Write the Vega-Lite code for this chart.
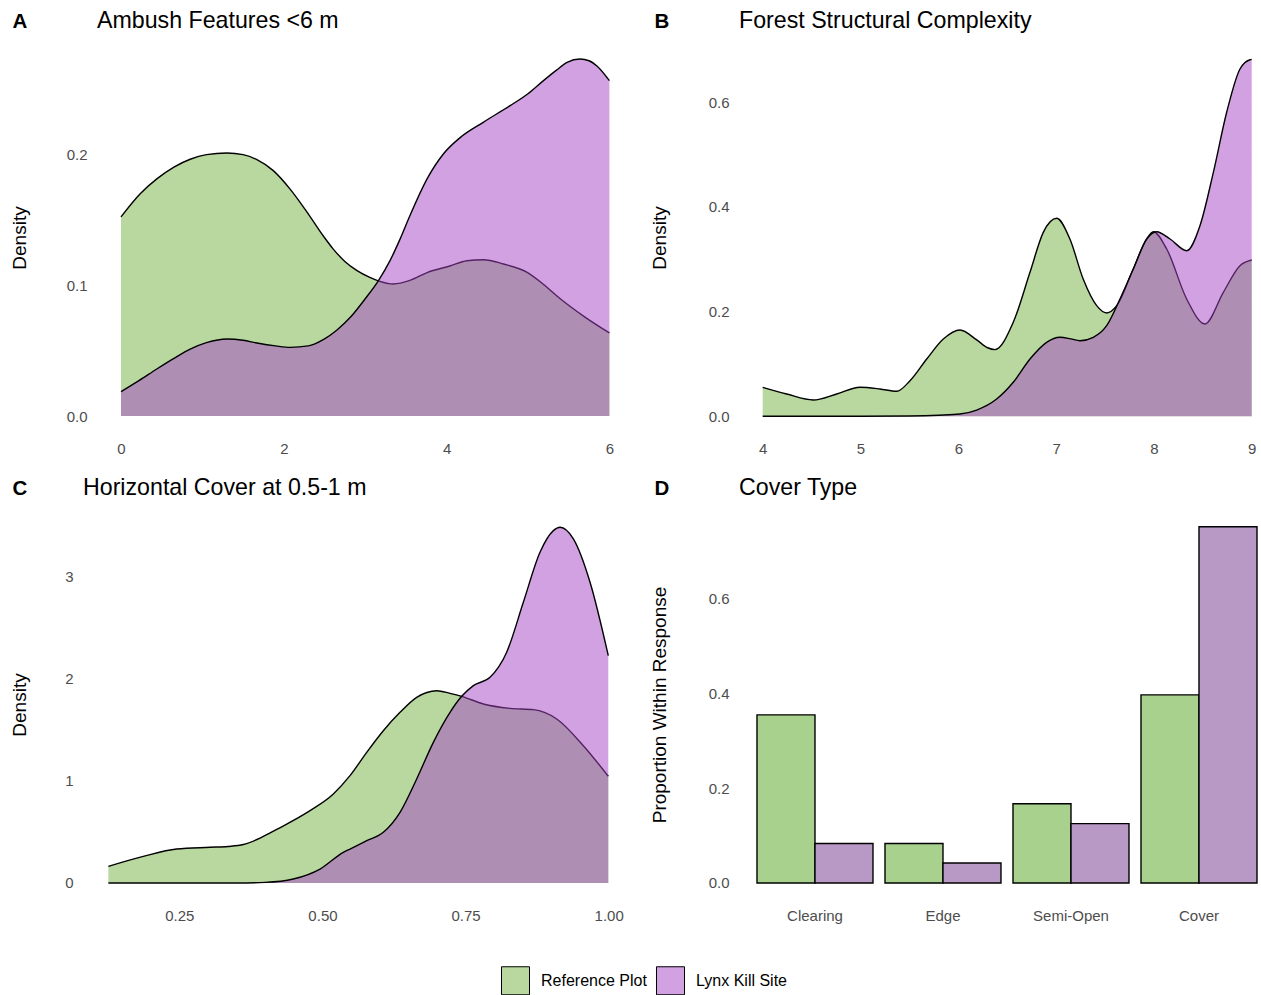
{
  "$schema": "https://vega.github.io/schema/vega-lite/v6.json",
  "background": "white",
  "padding": {"left": 10, "top": 9, "right": 0, "bottom": 0},
  "autosize": {"type": "pad"},
  "config": {
    "font": "Liberation Sans",
    "view": {"stroke": null},
    "axis": {"domain": false, "ticks": false, "tickSize": 0, "grid": false, "labelColor": "#4d4d4d", "labelFont": "Liberation Sans", "labelFontSize": 15, "labelPadding": 10, "labelFlush": false, "labelOverlap": false, "titleFont": "Liberation Sans", "titleFontSize": 19, "titleFontWeight": "normal", "titleColor": "black"},
    "axisX": {"labelPadding": 7.5, "labelAngle": 0, "titleFontSize": 20.5, "titleFontWeight": "bold", "titleAlign": "left", "titleBaseline": "alphabetic", "titleAngle": 0, "titleY": -406.7},
    "axisY": {"titleBaseline": "middle", "titleAngle": -90},
    "title": {"anchor": "start", "frame": "group", "font": "Liberation Sans", "fontSize": 23.2, "fontWeight": "normal", "color": "black", "offset": -22.2},
    "legend": {"orient": "none", "legendX": 418, "legendY": 925, "direction": "horizontal", "symbolType": "square", "symbolSize": 784, "labelFontSize": 16, "labelFont": "Liberation Sans", "labelColor": "black", "labelOffset": 11, "columnPadding": 7, "padding": 0}
  },
  "datasets": {
    "ambush": [
      {"x": 0, "y": 0.152, "g": "Reference Plot"},
      {"x": 0.233, "y": 0.1695, "g": "Reference Plot"},
      {"x": 0.44, "y": 0.181, "g": "Reference Plot"},
      {"x": 0.65, "y": 0.19, "g": "Reference Plot"},
      {"x": 0.85, "y": 0.196, "g": "Reference Plot"},
      {"x": 1.05, "y": 0.1995, "g": "Reference Plot"},
      {"x": 1.3, "y": 0.2008, "g": "Reference Plot"},
      {"x": 1.5, "y": 0.1995, "g": "Reference Plot"},
      {"x": 1.67, "y": 0.1957, "g": "Reference Plot"},
      {"x": 1.871, "y": 0.1873, "g": "Reference Plot"},
      {"x": 2.08, "y": 0.173, "g": "Reference Plot"},
      {"x": 2.281, "y": 0.156, "g": "Reference Plot"},
      {"x": 2.49, "y": 0.137, "g": "Reference Plot"},
      {"x": 2.6, "y": 0.128, "g": "Reference Plot"},
      {"x": 2.75, "y": 0.118, "g": "Reference Plot"},
      {"x": 2.9, "y": 0.111, "g": "Reference Plot"},
      {"x": 3.05, "y": 0.106, "g": "Reference Plot"},
      {"x": 3.161, "y": 0.1032, "g": "Reference Plot"},
      {"x": 3.345, "y": 0.1008, "g": "Reference Plot"},
      {"x": 3.55, "y": 0.1035, "g": "Reference Plot"},
      {"x": 3.76, "y": 0.1095, "g": "Reference Plot"},
      {"x": 4.04, "y": 0.1145, "g": "Reference Plot"},
      {"x": 4.25, "y": 0.1185, "g": "Reference Plot"},
      {"x": 4.45, "y": 0.1193, "g": "Reference Plot"},
      {"x": 4.7, "y": 0.116, "g": "Reference Plot"},
      {"x": 4.99, "y": 0.1097, "g": "Reference Plot"},
      {"x": 5.2, "y": 0.1, "g": "Reference Plot"},
      {"x": 5.4, "y": 0.0893, "g": "Reference Plot"},
      {"x": 5.7, "y": 0.0755, "g": "Reference Plot"},
      {"x": 6.0, "y": 0.0634, "g": "Reference Plot"},
      {"x": 0, "y": 0.0186, "g": "Lynx Kill Site"},
      {"x": 0.22, "y": 0.027, "g": "Lynx Kill Site"},
      {"x": 0.44, "y": 0.0359, "g": "Lynx Kill Site"},
      {"x": 0.65, "y": 0.044, "g": "Lynx Kill Site"},
      {"x": 0.85, "y": 0.0511, "g": "Lynx Kill Site"},
      {"x": 1.05, "y": 0.056, "g": "Lynx Kill Site"},
      {"x": 1.3, "y": 0.0588, "g": "Lynx Kill Site"},
      {"x": 1.5, "y": 0.0578, "g": "Lynx Kill Site"},
      {"x": 1.67, "y": 0.0557, "g": "Lynx Kill Site"},
      {"x": 1.9, "y": 0.0535, "g": "Lynx Kill Site"},
      {"x": 2.08, "y": 0.0524, "g": "Lynx Kill Site"},
      {"x": 2.3, "y": 0.0535, "g": "Lynx Kill Site"},
      {"x": 2.49, "y": 0.0585, "g": "Lynx Kill Site"},
      {"x": 2.65, "y": 0.0655, "g": "Lynx Kill Site"},
      {"x": 2.82, "y": 0.0755, "g": "Lynx Kill Site"},
      {"x": 3.0, "y": 0.0895, "g": "Lynx Kill Site"},
      {"x": 3.161, "y": 0.1032, "g": "Lynx Kill Site"},
      {"x": 3.3, "y": 0.118, "g": "Lynx Kill Site"},
      {"x": 3.428, "y": 0.135, "g": "Lynx Kill Site"},
      {"x": 3.55, "y": 0.153, "g": "Lynx Kill Site"},
      {"x": 3.76, "y": 0.181, "g": "Lynx Kill Site"},
      {"x": 3.96, "y": 0.2, "g": "Lynx Kill Site"},
      {"x": 4.17, "y": 0.2127, "g": "Lynx Kill Site"},
      {"x": 4.45, "y": 0.2242, "g": "Lynx Kill Site"},
      {"x": 4.78, "y": 0.2369, "g": "Lynx Kill Site"},
      {"x": 5.0, "y": 0.246, "g": "Lynx Kill Site"},
      {"x": 5.19, "y": 0.256, "g": "Lynx Kill Site"},
      {"x": 5.35, "y": 0.264, "g": "Lynx Kill Site"},
      {"x": 5.48, "y": 0.27, "g": "Lynx Kill Site"},
      {"x": 5.64, "y": 0.2725, "g": "Lynx Kill Site"},
      {"x": 5.75, "y": 0.2712, "g": "Lynx Kill Site"},
      {"x": 5.85, "y": 0.267, "g": "Lynx Kill Site"},
      {"x": 6.0, "y": 0.256, "g": "Lynx Kill Site"}
    ],
    "forest": [
      {"x": 4.0, "y": 0.0554, "g": "Reference Plot"},
      {"x": 4.245, "y": 0.0426, "g": "Reference Plot"},
      {"x": 4.517, "y": 0.0311, "g": "Reference Plot"},
      {"x": 4.757, "y": 0.0426, "g": "Reference Plot"},
      {"x": 4.995, "y": 0.0554, "g": "Reference Plot"},
      {"x": 5.199, "y": 0.0522, "g": "Reference Plot"},
      {"x": 5.37, "y": 0.0478, "g": "Reference Plot"},
      {"x": 5.506, "y": 0.068, "g": "Reference Plot"},
      {"x": 5.677, "y": 0.1095, "g": "Reference Plot"},
      {"x": 5.847, "y": 0.1477, "g": "Reference Plot"},
      {"x": 6.017, "y": 0.1649, "g": "Reference Plot"},
      {"x": 6.188, "y": 0.146, "g": "Reference Plot"},
      {"x": 6.3, "y": 0.131, "g": "Reference Plot"},
      {"x": 6.375, "y": 0.1275, "g": "Reference Plot"},
      {"x": 6.562, "y": 0.1796, "g": "Reference Plot"},
      {"x": 6.733, "y": 0.2752, "g": "Reference Plot"},
      {"x": 6.869, "y": 0.3516, "g": "Reference Plot"},
      {"x": 7.006, "y": 0.3784, "g": "Reference Plot"},
      {"x": 7.142, "y": 0.3383, "g": "Reference Plot"},
      {"x": 7.278, "y": 0.2618, "g": "Reference Plot"},
      {"x": 7.415, "y": 0.2114, "g": "Reference Plot"},
      {"x": 7.517, "y": 0.1974, "g": "Reference Plot"},
      {"x": 7.62, "y": 0.2114, "g": "Reference Plot"},
      {"x": 7.789, "y": 0.2815, "g": "Reference Plot"},
      {"x": 7.926, "y": 0.3388, "g": "Reference Plot"},
      {"x": 7.994, "y": 0.3528, "g": "Reference Plot"},
      {"x": 8.131, "y": 0.3197, "g": "Reference Plot"},
      {"x": 8.335, "y": 0.2242, "g": "Reference Plot"},
      {"x": 8.522, "y": 0.1764, "g": "Reference Plot"},
      {"x": 8.71, "y": 0.237, "g": "Reference Plot"},
      {"x": 8.88, "y": 0.2878, "g": "Reference Plot"},
      {"x": 9.0, "y": 0.2987, "g": "Reference Plot"},
      {"x": 4.0, "y": 0, "g": "Lynx Kill Site"},
      {"x": 4.5, "y": 0, "g": "Lynx Kill Site"},
      {"x": 5.0, "y": 0, "g": "Lynx Kill Site"},
      {"x": 5.5, "y": 0.0005, "g": "Lynx Kill Site"},
      {"x": 5.8, "y": 0.002, "g": "Lynx Kill Site"},
      {"x": 6.017, "y": 0.0044, "g": "Lynx Kill Site"},
      {"x": 6.188, "y": 0.012, "g": "Lynx Kill Site"},
      {"x": 6.392, "y": 0.033, "g": "Lynx Kill Site"},
      {"x": 6.562, "y": 0.065, "g": "Lynx Kill Site"},
      {"x": 6.733, "y": 0.1095, "g": "Lynx Kill Site"},
      {"x": 6.903, "y": 0.1414, "g": "Lynx Kill Site"},
      {"x": 7.04, "y": 0.151, "g": "Lynx Kill Site"},
      {"x": 7.15, "y": 0.148, "g": "Lynx Kill Site"},
      {"x": 7.244, "y": 0.1445, "g": "Lynx Kill Site"},
      {"x": 7.38, "y": 0.151, "g": "Lynx Kill Site"},
      {"x": 7.517, "y": 0.1732, "g": "Lynx Kill Site"},
      {"x": 7.653, "y": 0.2242, "g": "Lynx Kill Site"},
      {"x": 7.789, "y": 0.2815, "g": "Lynx Kill Site"},
      {"x": 7.926, "y": 0.3388, "g": "Lynx Kill Site"},
      {"x": 8.028, "y": 0.3528, "g": "Lynx Kill Site"},
      {"x": 8.165, "y": 0.3388, "g": "Lynx Kill Site"},
      {"x": 8.335, "y": 0.3165, "g": "Lynx Kill Site"},
      {"x": 8.471, "y": 0.3642, "g": "Lynx Kill Site"},
      {"x": 8.608, "y": 0.4663, "g": "Lynx Kill Site"},
      {"x": 8.744, "y": 0.581, "g": "Lynx Kill Site"},
      {"x": 8.88, "y": 0.6637, "g": "Lynx Kill Site"},
      {"x": 8.983, "y": 0.6814, "g": "Lynx Kill Site"},
      {"x": 9.0, "y": 0.682, "g": "Lynx Kill Site"}
    ],
    "cover": [
      {"x": 0.126, "y": 0.1634, "g": "Reference Plot"},
      {"x": 0.187, "y": 0.2614, "g": "Reference Plot"},
      {"x": 0.2454, "y": 0.3333, "g": "Reference Plot"},
      {"x": 0.3036, "y": 0.35, "g": "Reference Plot"},
      {"x": 0.335, "y": 0.358, "g": "Reference Plot"},
      {"x": 0.3618, "y": 0.377, "g": "Reference Plot"},
      {"x": 0.391, "y": 0.44, "g": "Reference Plot"},
      {"x": 0.42, "y": 0.525, "g": "Reference Plot"},
      {"x": 0.4783, "y": 0.709, "g": "Reference Plot"},
      {"x": 0.519, "y": 0.8725, "g": "Reference Plot"},
      {"x": 0.5481, "y": 1.052, "g": "Reference Plot"},
      {"x": 0.5773, "y": 1.281, "g": "Reference Plot"},
      {"x": 0.6063, "y": 1.493, "g": "Reference Plot"},
      {"x": 0.6355, "y": 1.673, "g": "Reference Plot"},
      {"x": 0.6646, "y": 1.82, "g": "Reference Plot"},
      {"x": 0.6996, "y": 1.885, "g": "Reference Plot"},
      {"x": 0.7228, "y": 1.859, "g": "Reference Plot"},
      {"x": 0.7432, "y": 1.83, "g": "Reference Plot"},
      {"x": 0.781, "y": 1.755, "g": "Reference Plot"},
      {"x": 0.8276, "y": 1.712, "g": "Reference Plot"},
      {"x": 0.8683, "y": 1.699, "g": "Reference Plot"},
      {"x": 0.9092, "y": 1.608, "g": "Reference Plot"},
      {"x": 0.9557, "y": 1.346, "g": "Reference Plot"},
      {"x": 0.9993, "y": 1.046, "g": "Reference Plot"},
      {"x": 0.126, "y": 0, "g": "Lynx Kill Site"},
      {"x": 0.25, "y": 0, "g": "Lynx Kill Site"},
      {"x": 0.35, "y": 0, "g": "Lynx Kill Site"},
      {"x": 0.4, "y": 0.006, "g": "Lynx Kill Site"},
      {"x": 0.449, "y": 0.039, "g": "Lynx Kill Site"},
      {"x": 0.4957, "y": 0.137, "g": "Lynx Kill Site"},
      {"x": 0.5364, "y": 0.301, "g": "Lynx Kill Site"},
      {"x": 0.5481, "y": 0.333, "g": "Lynx Kill Site"},
      {"x": 0.5773, "y": 0.415, "g": "Lynx Kill Site"},
      {"x": 0.6063, "y": 0.497, "g": "Lynx Kill Site"},
      {"x": 0.6355, "y": 0.693, "g": "Lynx Kill Site"},
      {"x": 0.6646, "y": 1.02, "g": "Lynx Kill Site"},
      {"x": 0.6937, "y": 1.379, "g": "Lynx Kill Site"},
      {"x": 0.7228, "y": 1.673, "g": "Lynx Kill Site"},
      {"x": 0.7432, "y": 1.83, "g": "Lynx Kill Site"},
      {"x": 0.7636, "y": 1.935, "g": "Lynx Kill Site"},
      {"x": 0.7927, "y": 2.016, "g": "Lynx Kill Site"},
      {"x": 0.8218, "y": 2.262, "g": "Lynx Kill Site"},
      {"x": 0.8509, "y": 2.752, "g": "Lynx Kill Site"},
      {"x": 0.88, "y": 3.242, "g": "Lynx Kill Site"},
      {"x": 0.9033, "y": 3.454, "g": "Lynx Kill Site"},
      {"x": 0.915, "y": 3.487, "g": "Lynx Kill Site"},
      {"x": 0.9383, "y": 3.373, "g": "Lynx Kill Site"},
      {"x": 0.9674, "y": 2.948, "g": "Lynx Kill Site"},
      {"x": 0.9993, "y": 2.228, "g": "Lynx Kill Site"}
    ],
    "covertype": [
      {"cat": "Clearing", "g": "Reference Plot", "p": 0.354},
      {"cat": "Clearing", "g": "Lynx Kill Site", "p": 0.083},
      {"cat": "Edge", "g": "Reference Plot", "p": 0.083},
      {"cat": "Edge", "g": "Lynx Kill Site", "p": 0.042},
      {"cat": "Semi-Open", "g": "Reference Plot", "p": 0.167},
      {"cat": "Semi-Open", "g": "Lynx Kill Site", "p": 0.125},
      {"cat": "Cover", "g": "Reference Plot", "p": 0.396},
      {"cat": "Cover", "g": "Lynx Kill Site", "p": 0.75}
    ]
  },
  "columns": 2,
  "spacing": {"row": 74, "column": 105},
  "bounds": "flush",
  "resolve": {"scale": {"color": "shared"}, "legend": {"color": "shared"}},
  "concat": [
    {
      "width": 551, "height": 393,
      "title": {"text": "Ambush Features <6 m", "dx": 14},
      "data": {"name": "ambush"},
      "encoding": {
        "x": {"field": "x", "type": "quantitative", "scale": {"domain": [-0.4668, 6.3022], "nice": false, "zero": false}, "axis": {"title": "A", "titleX": -71, "values": [0, 2, 4, 6]}},
        "y": {"field": "y", "type": "quantitative", "scale": {"domain": [-0.01374, 0.28626], "nice": false, "zero": false}, "axis": {"title": "Density", "values": [0, 0.1, 0.2], "format": ".1f", "offset": -14, "titleX": -77.2}}
      },
      "layer": [
        {"transform": [{"filter": "datum.g === 'Reference Plot'"}], "mark": {"type": "area", "fillOpacity": 0.5, "interpolate": "monotone"},
         "encoding": {"y2": {"datum": 0}, "color": {"field": "g", "type": "nominal", "scale": {"domain": ["Reference Plot", "Lynx Kill Site"], "range": ["#73b141", "#a543c5"]}, "legend": {"title": null, "encode": {"symbols": {"update": {"fillOpacity": {"value": 0.5}, "stroke": {"value": "black"}, "strokeWidth": {"value": 1}, "opacity": {"value": 1}}}}}}}},
        {"transform": [{"filter": "datum.g === 'Reference Plot'"}], "mark": {"type": "line", "color": "black", "strokeWidth": 1.4, "interpolate": "monotone"}, "encoding": {}},
        {"transform": [{"filter": "datum.g === 'Lynx Kill Site'"}], "mark": {"type": "area", "fillOpacity": 0.5, "interpolate": "monotone"},
         "encoding": {"y2": {"datum": 0}, "color": {"field": "g", "type": "nominal", "scale": {"domain": ["Reference Plot", "Lynx Kill Site"], "range": ["#73b141", "#a543c5"]}, "legend": {"title": null, "encode": {"symbols": {"update": {"fillOpacity": {"value": 0.5}, "stroke": {"value": "black"}, "strokeWidth": {"value": 1}, "opacity": {"value": 1}}}}}}}},
        {"transform": [{"filter": "datum.g === 'Lynx Kill Site'"}], "mark": {"type": "line", "color": "black", "strokeWidth": 1.4, "interpolate": "monotone"}, "encoding": {}}
      ]
    },
    {
      "width": 519, "height": 393,
      "title": {"text": "Forest Structural Complexity", "dx": 0},
      "data": {"name": "forest"},
      "encoding": {
        "x": {"field": "x", "type": "quantitative", "scale": {"domain": [3.7577, 9.0644], "nice": false, "zero": false}, "axis": {"title": "B", "titleX": -85, "values": [4, 5, 6, 7, 8, 9]}},
        "y": {"field": "y", "type": "quantitative", "scale": {"domain": [-0.0338, 0.7172], "nice": false, "zero": false}, "axis": {"title": "Density", "values": [0, 0.2, 0.4, 0.6], "format": ".1f", "titleX": -79.7}}
      },
      "layer": [
        {"transform": [{"filter": "datum.g === 'Reference Plot'"}], "mark": {"type": "area", "fillOpacity": 0.5, "interpolate": "monotone"},
         "encoding": {"y2": {"datum": 0}, "color": {"field": "g", "type": "nominal", "scale": {"domain": ["Reference Plot", "Lynx Kill Site"], "range": ["#73b141", "#a543c5"]}, "legend": {"title": null, "encode": {"symbols": {"update": {"fillOpacity": {"value": 0.5}, "stroke": {"value": "black"}, "strokeWidth": {"value": 1}, "opacity": {"value": 1}}}}}}}},
        {"transform": [{"filter": "datum.g === 'Reference Plot'"}], "mark": {"type": "line", "color": "black", "strokeWidth": 1.4, "interpolate": "monotone"}, "encoding": {}},
        {"transform": [{"filter": "datum.g === 'Lynx Kill Site'"}], "mark": {"type": "area", "fillOpacity": 0.5, "interpolate": "monotone"},
         "encoding": {"y2": {"datum": 0}, "color": {"field": "g", "type": "nominal", "scale": {"domain": ["Reference Plot", "Lynx Kill Site"], "range": ["#73b141", "#a543c5"]}, "legend": {"title": null, "encode": {"symbols": {"update": {"fillOpacity": {"value": 0.5}, "stroke": {"value": "black"}, "strokeWidth": {"value": 1}, "opacity": {"value": 1}}}}}}}},
        {"transform": [{"filter": "datum.g === 'Lynx Kill Site'"}], "mark": {"type": "line", "color": "black", "strokeWidth": 1.4, "interpolate": "monotone"}, "encoding": {}}
      ]
    },
    {
      "width": 551, "height": 393,
      "title": {"text": "Horizontal Cover at 0.5-1 m", "dx": 0},
      "data": {"name": "cover"},
      "encoding": {
        "x": {"field": "x", "type": "quantitative", "scale": {"domain": [0.0817, 1.0442], "nice": false, "zero": false}, "axis": {"title": "C", "titleX": -71, "values": [0.25, 0.5, 0.75, 1.0], "format": ".2f"}},
        "y": {"field": "y", "type": "quantitative", "scale": {"domain": [-0.1765, 3.676], "nice": false, "zero": false}, "axis": {"title": "Density", "values": [0, 1, 2, 3], "format": "d", "titleX": -63.2}}
      },
      "layer": [
        {"transform": [{"filter": "datum.g === 'Reference Plot'"}], "mark": {"type": "area", "fillOpacity": 0.5, "interpolate": "monotone"},
         "encoding": {"y2": {"datum": 0}, "color": {"field": "g", "type": "nominal", "scale": {"domain": ["Reference Plot", "Lynx Kill Site"], "range": ["#73b141", "#a543c5"]}, "legend": {"title": null, "encode": {"symbols": {"update": {"fillOpacity": {"value": 0.5}, "stroke": {"value": "black"}, "strokeWidth": {"value": 1}, "opacity": {"value": 1}}}}}}}},
        {"transform": [{"filter": "datum.g === 'Reference Plot'"}], "mark": {"type": "line", "color": "black", "strokeWidth": 1.4, "interpolate": "monotone"}, "encoding": {}},
        {"transform": [{"filter": "datum.g === 'Lynx Kill Site'"}], "mark": {"type": "area", "fillOpacity": 0.5, "interpolate": "monotone"},
         "encoding": {"y2": {"datum": 0}, "color": {"field": "g", "type": "nominal", "scale": {"domain": ["Reference Plot", "Lynx Kill Site"], "range": ["#73b141", "#a543c5"]}, "legend": {"title": null, "encode": {"symbols": {"update": {"fillOpacity": {"value": 0.5}, "stroke": {"value": "black"}, "strokeWidth": {"value": 1}, "opacity": {"value": 1}}}}}}}},
        {"transform": [{"filter": "datum.g === 'Lynx Kill Site'"}], "mark": {"type": "line", "color": "black", "strokeWidth": 1.4, "interpolate": "monotone"}, "encoding": {}}
      ]
    },
    {
      "width": 519, "height": 393,
      "title": {"text": "Cover Type", "dx": 0},
      "data": {"name": "covertype"},
      "mark": {"type": "bar", "stroke": "black", "strokeWidth": 1.4},
      "encoding": {
        "x": {"field": "cat", "type": "nominal", "sort": ["Clearing", "Edge", "Semi-Open", "Cover"], "scale": {"paddingInner": 0.09375, "paddingOuter": 0.0742, "align": 0.947}, "axis": {"title": "D", "titleX": -85}},
        "xOffset": {"field": "g", "type": "nominal", "sort": ["Reference Plot", "Lynx Kill Site"], "scale": {"paddingInner": 0, "paddingOuter": 0}},
        "y": {"field": "p", "type": "quantitative", "scale": {"domain": [-0.0379, 0.7895], "nice": false, "zero": false}, "axis": {"title": "Proportion Within Response", "values": [0, 0.2, 0.4, 0.6], "format": ".1f", "titleX": -79.7}},
        "y2": {"datum": 0},
        "fill": {"field": "g", "type": "nominal", "scale": {"domain": ["Reference Plot", "Lynx Kill Site"], "range": ["#a9d18e", "#b899c6"]}, "legend": null}
      }
    }
  ]
}
